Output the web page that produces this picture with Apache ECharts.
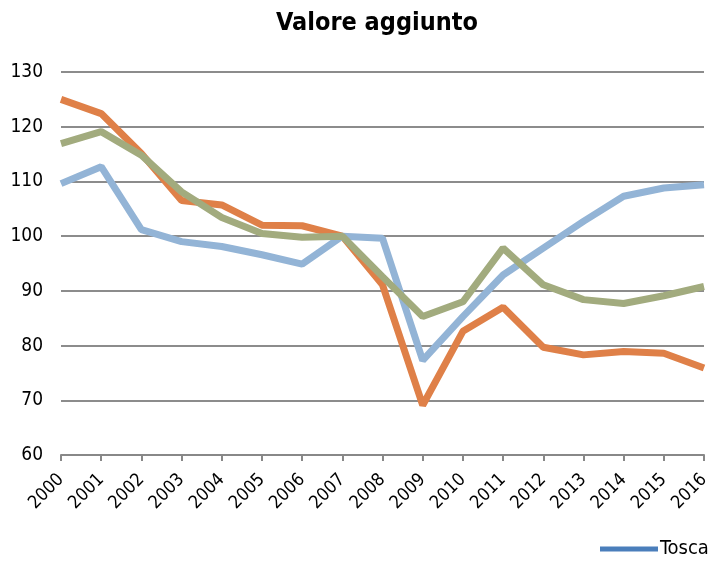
<!DOCTYPE html>
<html>
<head>
<meta charset="utf-8">
<script src="https://cdn.jsdelivr.net/npm/echarts@6/dist/echarts.min.js"></script>
<style>
html,body{margin:0;padding:0;background:#fff;}
#c{width:709px;height:561px;}
</style>
</head>
<body>
<div id="c"></div>
<script>
var years = ['2000','2001','2002','2003','2004','2005','2006','2007','2008','2009','2010','2011','2012','2013','2014','2015','2016'];
var toscana = [109.6,112.7,101.2,99.0,98.1,96.6,94.9,100.0,99.6,77.3,85.3,92.9,97.8,102.7,107.3,108.8,109.4];
var orange = [125.0,122.4,115.1,106.5,105.7,102.0,101.9,100.0,91.1,69.1,82.6,87.0,79.7,78.3,78.9,78.6,75.9];
var green = [116.9,119.1,114.8,108.1,103.4,100.5,99.8,100.0,92.6,85.3,88.0,97.8,91.1,88.4,87.7,89.1,90.8];
var yTicks = {min:60, max:130, interval:10};

var FONT = '"Liberation Sans Narrow","DejaVu Sans Condensed","Liberation Sans",Arial,sans-serif';
var chart = echarts.init(document.getElementById('c'), null, {renderer:'canvas'});
chart.setOption({
  animation:false,
  backgroundColor:'#ffffff',
  title:{
    text:'Valore aggiunto', left:372, textAlign:'center', top:6,
    textStyle:{fontFamily:FONT, fontSize:25, fontWeight:'bold', color:'#000'}
  },
  legend:{
    left:600, top:539, padding:0, itemWidth:58, itemHeight:5, itemGap:4,
    icon:'rect',
    textStyle:{fontFamily:FONT, fontSize:20, color:'#000', padding:[0,0,0,-3]},
    data:[{name:'Toscana', itemStyle:{color:'#4a7ebb'}}]
  },
  grid:{left:61, right:5, top:72, bottom:106, outerBoundsMode:'none', containLabel:false},
  xAxis:{
    type:'category', data:years, boundaryGap:false,
    axisLine:{lineStyle:{color:'#888888', width:2}},
    axisTick:{show:true, alignWithLabel:true, length:6, lineStyle:{color:'#888888', width:2}},
    axisLabel:{rotate:45, fontFamily:FONT, fontSize:18, color:'#000', margin:22}
  },
  yAxis:{
    type:'value', min:yTicks.min, max:yTicks.max, interval:yTicks.interval,
    axisLine:{show:false}, axisTick:{show:false},
    splitLine:{lineStyle:{color:'#8c8c8c', width:2}},
    axisLabel:{fontFamily:FONT, fontSize:19, color:'#000', margin:18}
  },
  series:[
    {name:'Toscana', type:'line', data:toscana, symbol:'none', color:'#93b4d6',
     lineStyle:{width:7, color:'#93b4d6'}, z:3},
    {name:'Serie2', type:'line', data:orange, symbol:'none', color:'#df8048',
     lineStyle:{width:7, color:'#df8048'}, z:2},
    {name:'Serie3', type:'line', data:green, symbol:'none', color:'#a2ab7e',
     lineStyle:{width:7, color:'#a2ab7e'}, z:4}
  ]
});
</script>
</body>
</html>
